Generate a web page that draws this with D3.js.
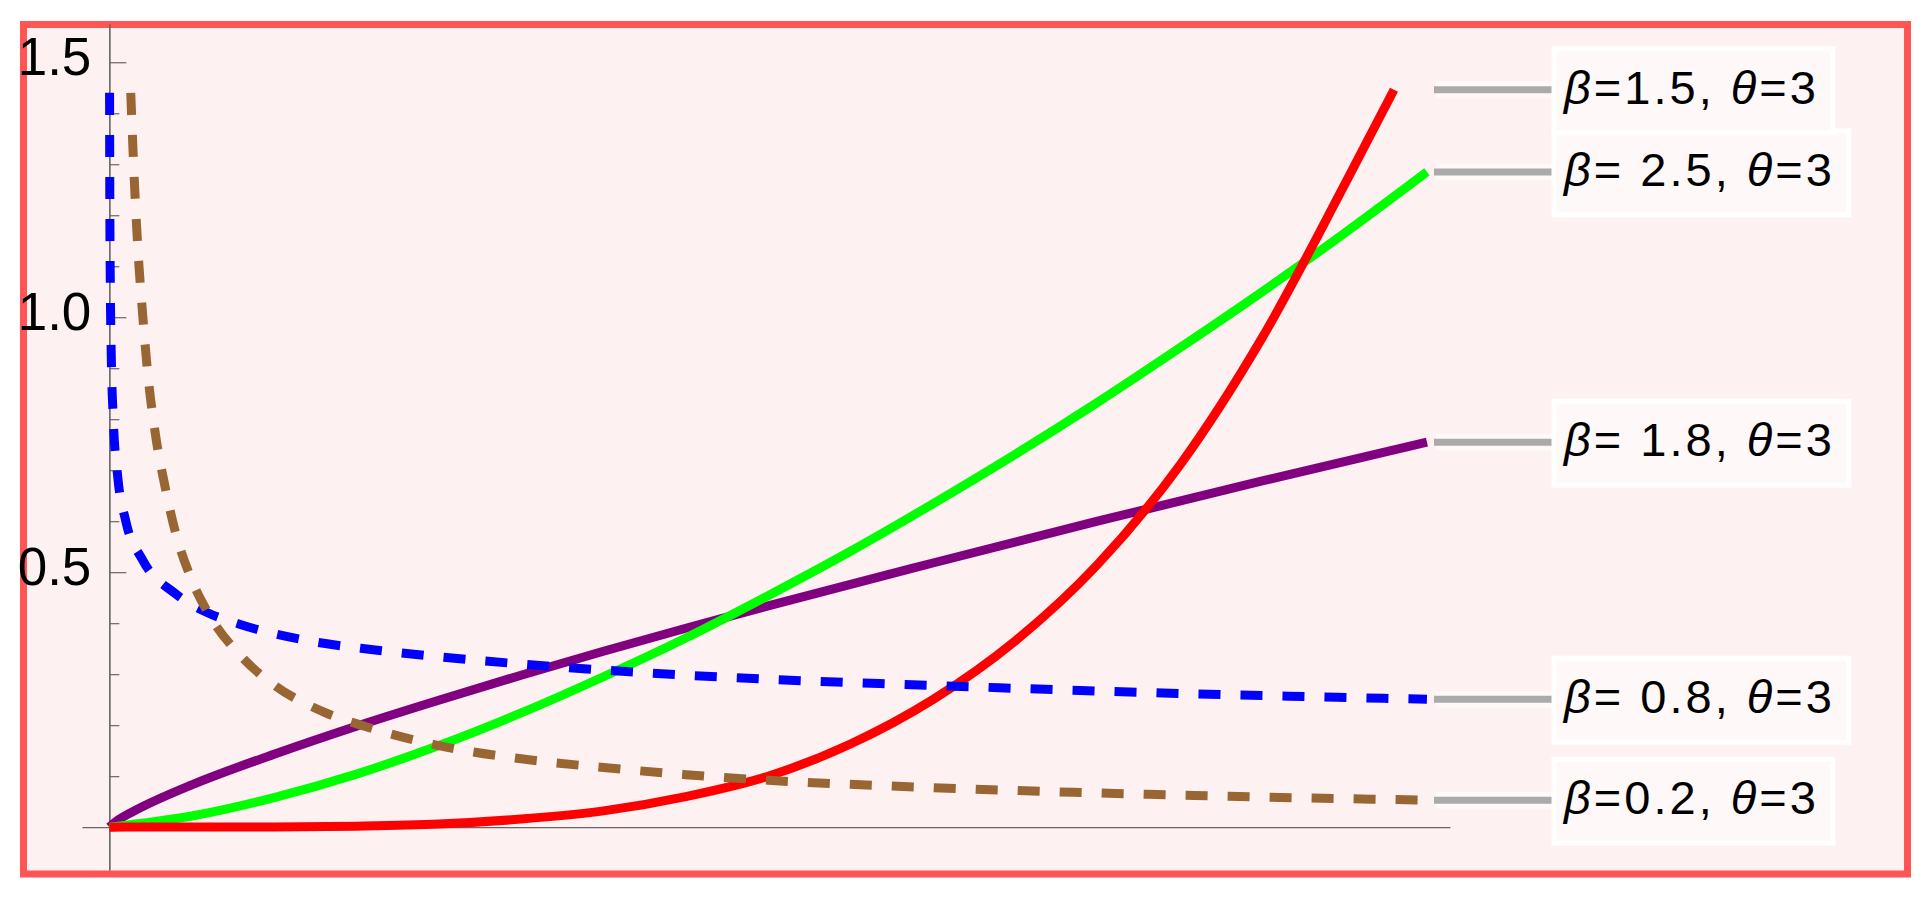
<!DOCTYPE html>
<html>
<head>
<meta charset="utf-8">
<script src="https://cdn.jsdelivr.net/npm/d3@7"></script>
<style>
  body { margin: 0; background: #fff; }
  svg { display: block; font-family: "Liberation Sans", Arial, sans-serif; }
</style>
</head>
<body>
<div id="chart"></div>
<script>
var width = 1929,
    height = 902;

// curves (x in plot units, no x tick labels shown)
var redX = [0, 0.25, 0.5, 0.75, 1.0, 1.25, 1.5, 1.75, 2.0, 2.25, 2.5, 2.75, 3.0, 3.25, 3.5, 3.75, 3.9];
var redY = [0, 0.0003, 0.0005, 0.002, 0.006, 0.016, 0.032, 0.06, 0.1, 0.163, 0.25, 0.365, 0.515, 0.71, 0.96, 1.26, 1.446];

var greenX = [0, 0.25, 0.5, 0.75, 1.0, 1.25, 1.5, 1.75, 2.0, 2.25, 2.5, 2.75, 3.0, 3.25, 3.5, 3.75, 4.0];
var greenY = [0, 0.022, 0.058, 0.104, 0.16, 0.224, 0.295, 0.371, 0.454, 0.541, 0.634, 0.731, 0.833, 0.94, 1.05, 1.165, 1.285];

var purpleX = [0, 0.02, 0.05, 0.1, 0.25, 0.5, 0.75, 1.0, 1.25, 1.5, 1.75, 2.0, 2.5, 3.0, 3.5, 4.0];
var purpleY = [0, 0.011, 0.023, 0.04, 0.083, 0.143, 0.198, 0.249, 0.298, 0.345, 0.39, 0.434, 0.518, 0.6, 0.679, 0.755];

var blueX = [0.0007, 0.0015, 0.003, 0.006, 0.012, 0.025, 0.05, 0.1, 0.2, 0.3, 0.4, 0.6, 0.8, 1.0, 1.25, 1.5, 1.75, 2.0, 2.5, 3.0, 3.5, 4.0];
var blueY = [1.44, 1.22, 1.06, 0.92, 0.8, 0.69, 0.6, 0.525, 0.458, 0.42, 0.397, 0.366, 0.348, 0.334, 0.32, 0.308, 0.298, 0.29, 0.278, 0.267, 0.258, 0.251];

var brownX = [0.065, 0.075, 0.09, 0.1, 0.115, 0.14, 0.17, 0.2, 0.25, 0.3, 0.4, 0.5, 0.65, 0.8, 1.0, 1.25, 1.5, 1.75, 2.0, 2.5, 3.0, 3.5, 4.0];
var brownY = [1.44, 1.28, 1.1, 1.015, 0.9, 0.77, 0.665, 0.58, 0.485, 0.42, 0.335, 0.279, 0.226, 0.193, 0.16, 0.134, 0.117, 0.103, 0.092, 0.0775, 0.067, 0.059, 0.053];

var seriesNames = ["purple", "green", "red", "blue", "brown"];
var seriesLabels = ["β= 1.8, θ=3", "β= 2.5, θ=3", "β=1.5, θ=3", "β= 0.8, θ=3", "β=0.2, θ=3"];
var seriesColors = ["#800080", "#00ff00", "#ff0000", "#0000ff", "#996633"];
var seriesDashed = [false, false, false, true, true];

var majorTicks = [0.5, 1.0, 1.5];
var minorTicks = [0.1, 0.2, 0.3, 0.4, 0.6, 0.7, 0.8, 0.9, 1.1, 1.2, 1.3, 1.4];

var seriesX = [purpleX, greenX, redX, blueX, brownX];
var seriesY = [purpleY, greenY, redY, blueY, brownY];

var series = seriesNames.map(function(n, i) {
    return {
        name: n,
        label: seriesLabels[i],
        color: seriesColors[i],
        dashed: seriesDashed[i],
        points: seriesX[i].map(function(v, j) { return [v, seriesY[i][j]]; })
    };
});

var svg = d3.select("#chart")
    .append("svg")
    .attr("width", width)
    .attr("height", height);

var x = d3.scaleLinear().domain([-0.083, 4.07]).range([82, 1450]);
var y = d3.scaleLinear().domain([-0.084, 1.575]).range([870, 24]);

// framed background
svg.append("rect")
    .attr("x", 23.5)
    .attr("y", 24.5)
    .attr("width", 1884)
    .attr("height", 849.5)
    .attr("fill", "#fef1f1")
    .attr("stroke", "#ff5555")
    .attr("stroke-width", 7);

// axes
var gx = svg.append("g")
    .attr("transform", "translate(0," + y(0) + ")")
    .call(d3.axisBottom(x).tickValues([]).tickSizeOuter(0));

var gyMinor = svg.append("g")
    .attr("transform", "translate(" + x(0) + ",0)")
    .call(d3.axisLeft(y).tickValues(minorTicks).tickSizeInner(-10).tickSizeOuter(0).tickFormat(""));

var gy = svg.append("g")
    .attr("transform", "translate(" + x(0) + ",0)")
    .call(d3.axisLeft(y).tickValues(majorTicks).tickSizeInner(-17).tickSizeOuter(0)
        .tickPadding(18).tickFormat(d3.format(".1f")));

svg.selectAll(".domain, .tick line").attr("stroke", "#666").attr("stroke-width", 1.2);
gy.selectAll("text")
    .attr("font-size", 53)
    .attr("font-family", "'Liberation Sans', Arial, sans-serif")
    .attr("fill", "#000")
    .attr("dy", "0.24em");

// curves
var line = d3.line()
    .x(function(d) { return x(d[0]); })
    .y(function(d) { return y(d[1]); })
    .curve(d3.curveMonotoneX);

svg.append("g")
    .selectAll("path")
    .data(series)
    .enter()
    .append("path")
    .attr("d", function(d) { return line(d.points); })
    .attr("fill", "none")
    .attr("stroke", function(d) { return d.color; })
    .attr("stroke-width", 9)
    .attr("stroke-dasharray", function(d) { return d.dashed ? "22,20" : null; });

// callout labels
var labelG = svg.append("g")
    .selectAll("g")
    .data(series)
    .enter()
    .append("g")
    .attr("transform", function(d) {
        var last = d.points[d.points.length - 1];
        return "translate(0," + y(last[1]) + ")";
    });

labelG.append("line")
    .attr("x1", 1436).attr("x2", 1556)
    .attr("stroke", "#fff8f8")
    .attr("stroke-width", 17);

labelG.append("line")
    .attr("x1", 1434).attr("x2", 1556)
    .attr("stroke", "#aaaaaa")
    .attr("stroke-width", 7);

var box = labelG.append("rect")
    .attr("x", 1554)
    .attr("y", -41)
    .attr("height", 84)
    .attr("fill", "#fff8f8")
    .attr("stroke", "#ffffff")
    .attr("stroke-width", 5);

var txt = labelG.append("text")
    .attr("x", 1564)
    .attr("y", 14)
    .attr("font-size", 47)
    .attr("letter-spacing", 3)
    .attr("fill", "#000");

txt.each(function(d) {
    var t = d3.select(this);
    d.label.split(/([βθ])/).forEach(function(part) {
        if (!part) return;
        t.append("tspan")
            .attr("font-style", /[βθ]/.test(part) ? "italic" : null)
            .text(part);
    });
});

box.attr("width", function() {
    var bb = this.parentNode.querySelector("text").getBBox();
    return bb.x + bb.width + 14 - 1554;
});
</script>
</body>
</html>
